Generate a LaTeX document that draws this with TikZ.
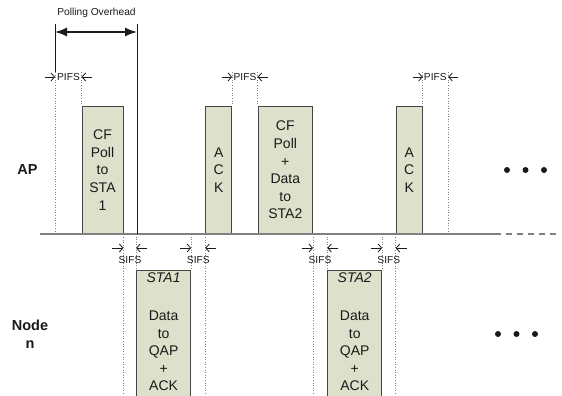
\documentclass[tikz,border=0pt]{standalone}
\usepackage{fontspec}
\setmainfont{Liberation Sans}
\usetikzlibrary{arrows.meta}
\definecolor{boxfill}{HTML}{DDE0CA}
\definecolor{boxline}{HTML}{454545}
\definecolor{baseg}{HTML}{808080}
\definecolor{txt}{HTML}{1A1A1A}
\tikzset{
  frame/.style={draw=boxline, fill=boxfill, line width=0.8pt, inner sep=0pt, text=txt,
    align=center, font=\fontsize{14}{17.6}\selectfont},
  frametext/.style={inner sep=0pt, text=txt, align=center, font=\fontsize{14}{17.6}\selectfont},
  guide/.style={draw=gray, dotted, line width=0.6pt},
  small/.style={font=\fontsize{10.2}{12}\selectfont, text=txt, inner sep=0pt},
  gaparrow/.style={-{Straight Barb[length=3.5pt,width=8pt,line width=0.8pt]}, line width=0.8pt, draw=txt},
  side/.style={font=\bfseries\fontsize{14.5}{17.7}\selectfont, text=txt, align=center, inner sep=0pt},
  bigarrow/.style={{Latex[length=12pt,width=9pt]}-{Latex[length=12pt,width=9pt]}, line width=1.4pt, draw=txt},
  edge/.style={draw=txt, line width=0.8pt},
  timeline/.style={draw=baseg, line width=1.3pt},
  dot/.style={fill=txt}
}
\begin{document}
\begin{tikzpicture}[x=1pt,y=-1pt]
\useasboundingbox (0,0) rectangle (562,396);
\clip (0,0) rectangle (562,396);

% labels on the left
\node[side] (ap) at (27.5,170) {AP};
\node[side] (node) at (30,334) {Node\\n};

% AP frames
\node[frame, minimum width=41pt, minimum height=128pt] (cf1) at (102.5,170) {CF\\Poll\\to\\STA\\1};
\node[frame, minimum width=26pt, minimum height=128pt] (ack1) at (218.7,170) {A\\C\\K};
\node[frame, minimum width=54.5pt, minimum height=128pt] (cf2) at (285.3,170) {CF\\Poll\\+\\Data\\to\\STA2};
\node[frame, minimum width=26.3pt, minimum height=128pt] (ack2) at (409.2,170) {A\\C\\K};

% Node frames
\node[frame, minimum width=54.2pt, minimum height=150pt, anchor=north] (sta1) at (163.6,270) {};
\node[frametext, anchor=north] (sta1t) at ([yshift=-3pt]sta1.north) {\textit{STA1}\\[20pt]Data\\to\\QAP\\+\\ACK};
\node[frame, minimum width=54pt, minimum height=150pt, anchor=north] (sta2) at (354.7,270) {};
\node[frametext, anchor=north] (sta2t) at ([yshift=-3pt]sta2.north) {\textit{STA2}\\[20pt]Data\\to\\QAP\\+\\ACK};

% time line
\coordinate (tl0) at (40,234);
\coordinate (tl1) at (495,234);
\coordinate (tl2) at (558,234);
\draw[timeline] (tl0) -- (tl1);
\draw[timeline, dash pattern=on 6pt off 5pt] (tl1) -- (tl2);

% polling overhead
\coordinate (po1) at (55,24);
\coordinate (po2) at (137,24);
\coordinate (po1b) at (55,72);
\draw[edge] (po1) -- (po1b);
\draw[edge] (po2) -- (po2 |- tl0);
\node[small] (pot) at (96.5,12.5) {Polling Overhead};
\draw[bigarrow] ([yshift=-8pt]po1) -- ([yshift=-8pt]po2);

% dotted guides above
\coordinate (top) at (0,72);
\draw[guide] (po1b) -- (po1b |- tl0);
\draw[guide] (cf1.north west |- top) -- (cf1.north west);
\draw[guide] (ack1.north east |- top) -- (ack1.north east);
\draw[guide] (cf2.north west |- top) -- (cf2.north west);
\draw[guide] (ack2.north east |- top) -- (ack2.north east);
\coordinate (p3r) at (448.3,72);
\draw[guide] (p3r) -- (p3r |- tl0);

% dotted guides below
\coordinate (bot) at (0,396);
\draw[guide] (cf1.south east) -- (cf1.south east |- bot);
\draw[guide] (sta1.north west |- tl0) -- (sta1.north west);
\draw[guide] (sta1.north east |- tl0) -- (sta1.north east);
\draw[guide] (ack1.south west) -- (ack1.south west |- bot);
\draw[guide] (cf2.south east) -- (cf2.south east |- bot);
\draw[guide] (sta2.north west |- tl0) -- (sta2.north west);
\draw[guide] (sta2.north east |- tl0) -- (sta2.north east);
\draw[guide] (ack2.south west) -- (ack2.south west |- bot);

% PIFS markers
\coordinate (py) at (0,77);
\node[small] (pifs1) at (68.5,77) {PIFS};
\draw[gaparrow] ([xshift=-10pt]po1 |- py) -- (po1 |- py);
\draw[gaparrow] ([xshift=10pt]cf1.west |- py) -- (cf1.west |- py);
\node[small] (pifs2) at (245,77) {PIFS};
\draw[gaparrow] ([xshift=-10pt]ack1.east |- py) -- (ack1.east |- py);
\draw[gaparrow] ([xshift=10pt]cf2.west |- py) -- (cf2.west |- py);
\node[small] (pifs3) at (435.3,77) {PIFS};
\draw[gaparrow] ([xshift=-10pt]ack2.east |- py) -- (ack2.east |- py);
\draw[gaparrow] ([xshift=10pt]p3r |- py) -- (p3r |- py);

% SIFS markers
\coordinate (sy) at (0,248);
\node[small] (sifs1) at (130,260) {SIFS};
\draw[gaparrow] ([xshift=-11pt]cf1.east |- sy) -- (cf1.east |- sy);
\draw[gaparrow] ([xshift=11pt]sta1.west |- sy) -- (sta1.west |- sy);
\node[small] (sifs2) at (198.3,260) {SIFS};
\draw[gaparrow] ([xshift=-11pt]sta1.east |- sy) -- (sta1.east |- sy);
\draw[gaparrow] ([xshift=11pt]ack1.west |- sy) -- (ack1.west |- sy);
\node[small] (sifs3) at (320,260) {SIFS};
\draw[gaparrow] ([xshift=-11pt]cf2.east |- sy) -- (cf2.east |- sy);
\draw[gaparrow] ([xshift=11pt]sta2.west |- sy) -- (sta2.west |- sy);
\node[small] (sifs4) at (388.8,260) {SIFS};
\draw[gaparrow] ([xshift=-11pt]sta2.east |- sy) -- (sta2.east |- sy);
\draw[gaparrow] ([xshift=11pt]ack2.west |- sy) -- (ack2.west |- sy);

% ellipses
\fill[dot] (507,170) circle (3pt) (525.5,170) circle (3pt) (544,170) circle (3pt);
\fill[dot] (498,334) circle (3pt) (516.5,334) circle (3pt) (535,334) circle (3pt);
\end{tikzpicture}
\end{document}
